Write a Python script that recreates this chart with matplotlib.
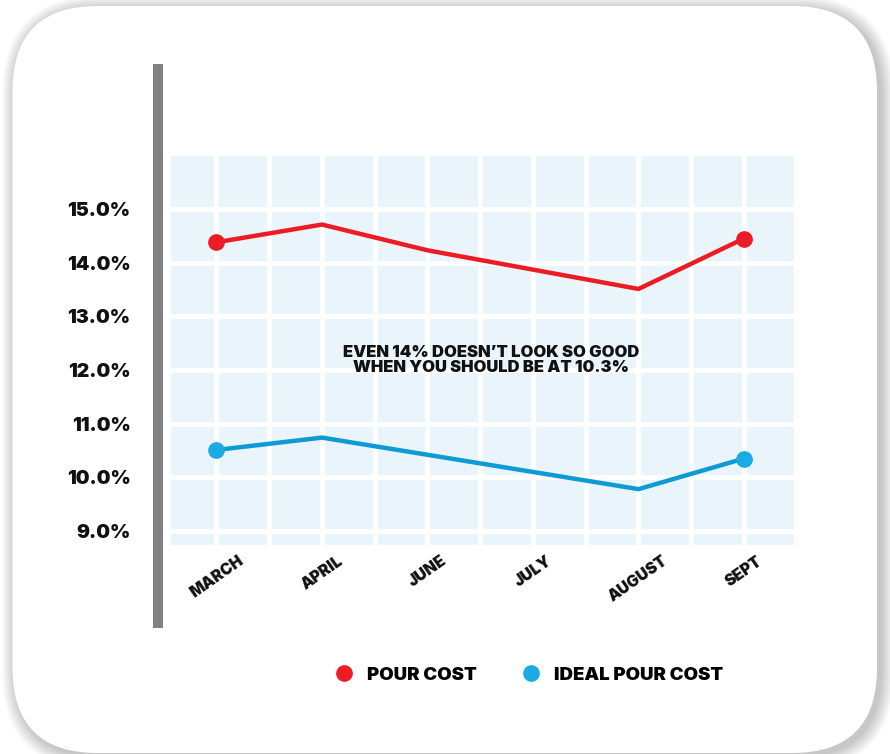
import matplotlib
matplotlib.use("Agg")
import matplotlib.pyplot as plt
from matplotlib.patches import FancyBboxPatch, Rectangle
from matplotlib.lines import Line2D
from matplotlib.ticker import FuncFormatter

# ---- data ----
months = ["MARCH", "APRIL", "JUNE", "JULY", "AUGUST", "SEPT"]
pour_cost = [14.38, 14.71, 14.23, 13.87, 13.51, 14.45]
ideal_pour_cost = [10.51, 10.74, 10.42, 10.10, 9.78, 10.35]
y_ticks = [9, 10, 11, 12, 13, 14, 15]
series_labels = ["POUR COST", "IDEAL POUR COST"]
note = "EVEN 14% DOESN\u2019T LOOK SO GOOD\nWHEN YOU SHOULD BE AT 10.3%"

RED = "#EC1C24"
BLUE_LINE = "#0E9AD4"
BLUE_DOT = "#1AABE2"
TXT = "#111111"
FONT = ["Inter", "DejaVu Sans"]
W, H = 890, 754

plt.rcParams["font.family"] = FONT

fig = plt.figure(figsize=(W / 100, H / 100), dpi=100)
fig.patch.set_facecolor("white")

# ---- background card ----
bg = fig.add_axes([0, 0, 1, 1], zorder=-10)
bg.set_xlim(0, W)
bg.set_ylim(H, 0)
bg.axis("off")
cx0, cy0, cx1, cy1 = 12.5, 6, 877, 753
r = 85
for i in range(14, 0, -1):
    sh = FancyBboxPatch((cx0 - i + 3.5, cy0 - i + 3.5),
                        (cx1 - cx0) + 2 * i, (cy1 - cy0) + 2 * i,
                        boxstyle=f"round,pad=0,rounding_size={r + i}",
                        facecolor="black", edgecolor="none", alpha=0.017)
    bg.add_patch(sh)
card = FancyBboxPatch((cx0, cy0), cx1 - cx0, cy1 - cy0,
                      boxstyle=f"round,pad=0,rounding_size={r}",
                      facecolor="white", edgecolor="none")
bg.add_patch(card)
bg.add_patch(Rectangle((153, 64), 10, 564, facecolor="#818186", edgecolor="none"))

# ---- main axes ----
ax = fig.add_axes([170.7 / W, 1 - 545 / H, (794 - 170.7) / W, (545 - 155.7) / H])
ax.set_facecolor("#E9F4FB")
for s in ax.spines.values():
    s.set_visible(False)

x = list(range(len(months)))
ax.plot(x, pour_cost, color=RED, lw=3.2, solid_joinstyle="miter",
        marker="o", markevery=[0, len(x) - 1], markersize=11,
        markerfacecolor=RED, markeredgecolor=RED, zorder=3)
ax.plot(x, ideal_pour_cost, color=BLUE_LINE, lw=3.2, solid_joinstyle="miter",
        marker="o", markevery=[0, len(x) - 1], markersize=11,
        markerfacecolor=BLUE_DOT, markeredgecolor=BLUE_DOT, zorder=3)

ax.set_xlim(-0.434, 5.474)
ax.set_ylim(8.739, 15.993)

ax.set_xticks(x)
ax.set_xticks([i + 0.5 for i in x[:-1]], minor=True)
ax.set_xticklabels(months, rotation=35, ha="center", fontsize=11.3,
                   fontweight="black", color=TXT)
ax.set_yticks(y_ticks)
ax.yaxis.set_major_formatter(FuncFormatter(lambda v, p: f"{v:.1f}%"))
for lab in ax.get_yticklabels():
    lab.set_fontsize(14)
    lab.set_fontweight("black")
    lab.set_color(TXT)
ax.tick_params(axis="both", which="both", length=0)
ax.tick_params(axis="y", pad=29)
ax.tick_params(axis="x", pad=6)
ax.grid(True, which="both", axis="x", color="white", lw=3.4, zorder=1)
ax.grid(True, which="major", axis="y", color="white", lw=3.4, zorder=1)
ax.set_axisbelow(True)

ax.text(0.514, 0.475, note, transform=ax.transAxes, ha="center", va="center",
        fontsize=11.9, fontweight="black", color=TXT, linespacing=1.05,
        zorder=4)

# ---- legend ----
handles = [
    Line2D([], [], linestyle="none", marker="o", markersize=11,
           markerfacecolor=RED, markeredgecolor=RED),
    Line2D([], [], linestyle="none", marker="o", markersize=11,
           markerfacecolor=BLUE_DOT, markeredgecolor=BLUE_DOT),
]
fig.legend(handles, series_labels, loc="center", bbox_to_anchor=(529 / W, 1 - 675 / H),
           ncol=2, frameon=False, handlelength=1.0, handletextpad=0.75,
           columnspacing=2.4,
           prop={"family": FONT, "weight": "black", "size": 13.4})

fig.savefig("out.png", dpi=100, facecolor="white")
